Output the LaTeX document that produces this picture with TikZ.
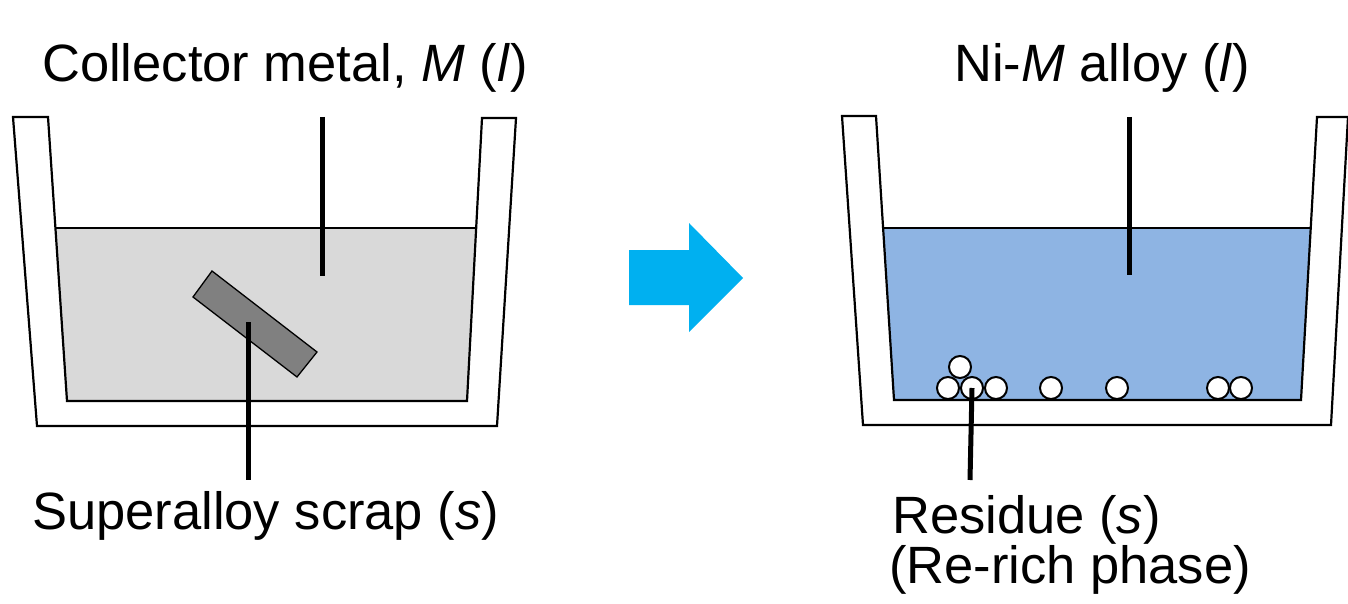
\documentclass[tikz,border=0pt]{standalone}
\usepackage{fontspec}
\setmainfont{Liberation Sans}
\definecolor{melt}{HTML}{D9D9D9}
\definecolor{alloyblue}{HTML}{8EB4E3}
\definecolor{scrapgray}{HTML}{808080}
\definecolor{flowcyan}{HTML}{00B0F0}
\tikzset{
  crucible/.style={draw=black, line width=2.2pt, line join=miter},
  liquid/.style={line width=2.2pt},
  lead/.style={draw=black, line width=5pt},
  lbl/.style={inner sep=0pt, font=\fontsize{52.5}{50}\selectfont},
  particle/.style={circle, draw=black, fill=white, line width=2pt, minimum size=22pt, inner sep=0pt},
}
\begin{document}
\begin{tikzpicture}[x=1pt,y=-1pt]
\useasboundingbox (0,0) rectangle (1348,604);

% ---------- left crucible: scrap in collector metal ----------
\fill[melt] (55,228) -- (476,228) -- (467,401) -- (67,401) -- cycle;
\draw[liquid] (55,228) -- (476,228);
\draw[crucible] (13,117) -- (37,426) -- (497,426) -- (516,118) -- (482,118)
  -- (467,401) -- (67,401) -- (48,117) -- cycle;
\draw[fill=scrapgray, line width=1.3pt] (212,271) -- (193,297) -- (297,377) -- (317,352) -- cycle;

\node[lbl, anchor=base west] (collector) at (42,82) {Collector metal, \textit{M} (\textit{l})};
\node[lbl, anchor=base west] (scrap) at (32,529) {Superalloy scrap (\textit{s})};

\coordinate (c1) at (322,117);
\coordinate (c2) at (322,276);
\draw[lead] (c1) -- (c2);
\coordinate (s1) at (248,322);
\coordinate (s2) at (248,480);
\draw[lead] (s1) -- (s2);

% ---------- process arrow ----------
\fill[flowcyan] (629,250) -- (689,250) -- (689,223) -- (743,278) -- (689,332)
  -- (689,305) -- (629,305) -- cycle;

% ---------- right crucible: alloy with residue ----------
\fill[alloyblue] (883,228) -- (1310,228) -- (1301,400) -- (894,400) -- cycle;
\draw[liquid] (883,228) -- (1310,228);
\draw[crucible] (842,116) -- (863,425) -- (1331,425) -- (1348,117) -- (1317,117)
  -- (1301,400) -- (894,400) -- (876,116) -- cycle;

\node[particle] (p1) at (948,388) {};
\node[particle] (p3) at (996,388) {};
\node[particle] (p0) at (960,367) {};
\node[particle] (p2) at (972,388) {};
\node[particle] (p4) at (1051,388) {};
\node[particle] (p5) at (1117,388) {};
\node[particle] (p6) at (1218,388) {};
\node[particle] (p7) at (1241,388) {};

\node[lbl, anchor=base west] (nialloy) at (954,82) {Ni-\textit{M} alloy (\textit{l})};
\node[lbl, anchor=base west] (residue) at (892,533) {Residue (\textit{s})};
\node[lbl, anchor=base west] (rephase) at (889,583) {(Re-rich phase)};

\coordinate (a1) at (1129,117);
\coordinate (a2) at (1129,275);
\draw[lead] (a1) -- (a2);
\coordinate (r2) at (970,480);
\draw[lead] (p2.center) -- (r2);
\end{tikzpicture}
\end{document}
